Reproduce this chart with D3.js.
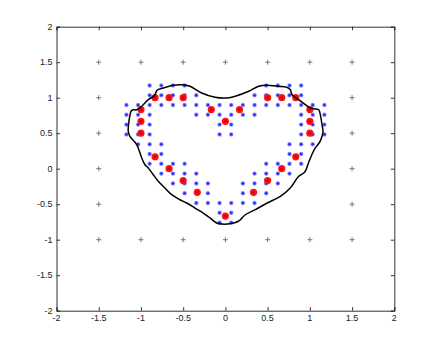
<!DOCTYPE html>
<html>
<head>
<meta charset="utf-8">
<script src="https://cdn.jsdelivr.net/npm/d3@7"></script>
<style>
  body { margin: 0; background: #fff; }
  .tick-label { font-family: "Liberation Sans", Arial, sans-serif; font-size: 9px; fill: #222; }
</style>
</head>
<body>
<div id="viz"></div>
<script>
var width = 436, height = 350;
var margin = {top: 26.7, right: 41.7, bottom: 39.3, left: 56.5};

var xTicks = [-2, -1.5, -1, -0.5, 0, 0.5, 1, 1.5, 2];
var yTicks = [-2, -1.5, -1, -0.5, 0, 0.5, 1, 1.5, 2];

// grey "+" points (square border)
var greyPts = [
  [-1.5, 1.5], [-1, 1.5], [-0.5, 1.5], [0, 1.5], [0.5, 1.5], [1, 1.5], [1.5, 1.5],
  [-1.5, 1], [1.5, 1], [-1.5, 0.5], [1.5, 0.5], [-1.5, 0], [1.5, 0], [-1.5, -0.5], [1.5, -0.5],
  [-1.5, -1], [-1, -1], [-0.5, -1], [0, -1], [0.5, -1], [1, -1], [1.5, -1]
];

// red points (heart)
var redPts = [
  [-1, 0.833], [-1, 0.667], [-1, 0.5], [-0.833, 1], [-0.667, 1], [-0.5, 1],
  [-0.167, 0.833], [0, 0.667], [0.167, 0.833],
  [-0.833, 0.167], [-0.667, 0], [-0.5, -0.167], [-0.333, -0.333], [0, -0.667],
  [0.333, -0.333], [0.5, -0.167], [0.667, 0], [0.833, 0.167],
  [1, 0.5], [1, 0.667], [1, 0.833], [0.5, 1], [0.667, 1], [0.833, 1]
];

// blue points, by row
var blueRowY = [1.172, 1.034, 0.897, 0.759, 0.621, 0.483, 0.345, 0.207, 0.069,
                -0.069, -0.207, -0.345, -0.483, -0.621, -0.759];
var blueRowX = [
  [-0.897, -0.759, -0.621, -0.483, 0.483, 0.621, 0.759, 0.897],
  [-0.897, -0.759, -0.621, -0.483, -0.345, 0.345, 0.483, 0.621, 0.759, 0.897],
  [-1.172, -1.034, -0.897, -0.759, -0.621, -0.483, -0.345, -0.207, -0.069,
   0.069, 0.207, 0.345, 0.483, 0.621, 0.759, 0.897, 1.034, 1.172],
  [-1.172, -1.034, -0.897, -0.345, -0.207, -0.069, 0.069, 0.207, 0.345, 0.897, 1.034, 1.172],
  [-1.172, -1.034, -0.897, -0.069, 0.069, 0.897, 1.034, 1.172],
  [-1.172, -1.034, -0.897, -0.069, 0.069, 0.897, 1.034, 1.172],
  [-1.034, -0.897, -0.759, 0.759, 0.897, 1.034],
  [-0.897, -0.759, 0.759, 0.897],
  [-0.897, -0.759, -0.621, -0.483, 0.483, 0.621, 0.759, 0.897],
  [-0.759, -0.621, -0.483, -0.345, 0.345, 0.483, 0.621, 0.759],
  [-0.621, -0.483, -0.345, -0.207, 0.207, 0.345, 0.483, 0.621],
  [-0.483, -0.345, -0.207, 0.207, 0.345, 0.483],
  [-0.345, -0.207, -0.069, 0.069, 0.207, 0.345],
  [-0.069, 0.069],
  [-0.069, 0.069]
];

// black closed curve
var curvePts = [
  [0.019, 0.996], [0.117, 1.020], [0.276, 1.090], [0.394, 1.161], [0.493, 1.175],
  [0.611, 1.161], [0.729, 1.146], [0.768, 1.113], [0.789, 1.042], [0.868, 0.972],
  [0.946, 0.901], [1.005, 0.855], [1.046, 0.845], [1.105, 0.831], [1.124, 0.761],
  [1.144, 0.620], [1.156, 0.527], [1.144, 0.456], [1.120, 0.380], [1.061, 0.287],
  [1.022, 0.193], [0.982, 0.076], [0.943, -0.042], [0.863, -0.113], [0.765, -0.276],
  [0.646, -0.394], [0.489, -0.487], [0.354, -0.577], [0.232, -0.652], [0.173, -0.723],
  [0.117, -0.758], [0.054, -0.776], [-0.044, -0.779], [-0.103, -0.765], [-0.182, -0.694],
  [-0.262, -0.624], [-0.360, -0.554], [-0.458, -0.483], [-0.538, -0.437], [-0.636, -0.366],
  [-0.716, -0.272], [-0.795, -0.177], [-0.854, -0.085], [-0.913, 0.010], [-0.952, 0.056],
  [-0.991, 0.151], [-1.011, 0.221], [-1.050, 0.338], [-1.130, 0.456], [-1.150, 0.527],
  [-1.142, 0.668], [-1.118, 0.808], [-1.102, 0.827], [-1.050, 0.831], [-0.991, 0.879],
  [-0.913, 0.972], [-0.842, 1.028], [-0.825, 1.066], [-0.810, 1.104], [-0.735, 1.137],
  [-0.617, 1.175], [-0.517, 1.183], [-0.419, 1.161], [-0.281, 1.066], [-0.123, 1.006]
];

var svg = d3.select("#viz").append("svg")
  .attr("width", width).attr("height", height);

var x = d3.scaleLinear().domain([-2, 2]).range([margin.left, width - margin.right]);
var y = d3.scaleLinear().domain([-2, 2]).range([height - margin.bottom, margin.top]);

var fmt = function(d) { return String(d).replace("\u2212", "-"); };

// axes (MATLAB style box, ticks inward on all sides)
svg.append("g").attr("transform", "translate(0," + y(-2) + ")")
  .call(d3.axisTop(x).tickValues(xTicks).tickSize(3.5).tickFormat(""));
svg.append("g").attr("transform", "translate(0," + y(2) + ")")
  .call(d3.axisBottom(x).tickValues(xTicks).tickSize(3.5).tickFormat(""));
svg.append("g").attr("transform", "translate(" + x(-2) + ",0)")
  .call(d3.axisRight(y).tickValues(yTicks).tickSize(3.5).tickFormat(""));
svg.append("g").attr("transform", "translate(" + x(2) + ",0)")
  .call(d3.axisLeft(y).tickValues(yTicks).tickSize(3.5).tickFormat(""));
svg.selectAll(".domain").attr("stroke", "#333");
svg.selectAll(".tick line").attr("stroke", "#333");

svg.append("g").selectAll("text").data(xTicks).enter().append("text")
  .attr("class", "tick-label")
  .attr("x", function(d) { return x(d); })
  .attr("y", y(-2) + 10)
  .attr("text-anchor", "middle")
  .text(fmt);
svg.append("g").selectAll("text").data(yTicks).enter().append("text")
  .attr("class", "tick-label")
  .attr("x", x(-2) - 4)
  .attr("y", function(d) { return y(d) + 3; })
  .attr("text-anchor", "end")
  .text(fmt);

// grey pluses
var plus = svg.append("g").attr("stroke", "#777").attr("stroke-width", 1);
greyPts.forEach(function(p) {
  plus.append("line").attr("x1", x(p[0]) - 2.5).attr("x2", x(p[0]) + 2.5)
    .attr("y1", y(p[1])).attr("y2", y(p[1]));
  plus.append("line").attr("x1", x(p[0])).attr("x2", x(p[0]))
    .attr("y1", y(p[1]) - 2.5).attr("y2", y(p[1]) + 2.5);
});

// blue points
var blue = [];
blueRowY.forEach(function(yy, i) {
  blueRowX[i].forEach(function(xx) { blue.push([xx, yy]); });
});
var bg = svg.append("g");
bg.selectAll("circle.halo").data(blue).enter().append("circle")
  .attr("cx", function(d) { return x(d[0]); })
  .attr("cy", function(d) { return y(d[1]); })
  .attr("r", 2.2).attr("fill", "#8a8cff");
bg.selectAll("circle.core").data(blue).enter().append("circle")
  .attr("cx", function(d) { return x(d[0]); })
  .attr("cy", function(d) { return y(d[1]); })
  .attr("r", 1.3).attr("fill", "#2b2bff");

// red points
var rg = svg.append("g");
rg.selectAll("circle.r").data(redPts).enter().append("circle")
  .attr("cx", function(d) { return x(d[0]); })
  .attr("cy", function(d) { return y(d[1]); })
  .attr("r", 3.6).attr("fill", "#ff1010");
rg.selectAll("circle.c").data(redPts).enter().append("circle")
  .attr("cx", function(d) { return x(d[0]); })
  .attr("cy", function(d) { return y(d[1]); })
  .attr("r", 1.4).attr("fill", "#c00020");

// black curve
var line = d3.line()
  .x(function(d) { return x(d[0]); })
  .y(function(d) { return y(d[1]); })
  .curve(d3.curveCatmullRomClosed.alpha(0.5));
svg.append("path").datum(curvePts)
  .attr("d", line)
  .attr("fill", "none")
  .attr("stroke", "#000")
  .attr("stroke-width", 1.5);
</script>
</body>
</html>
